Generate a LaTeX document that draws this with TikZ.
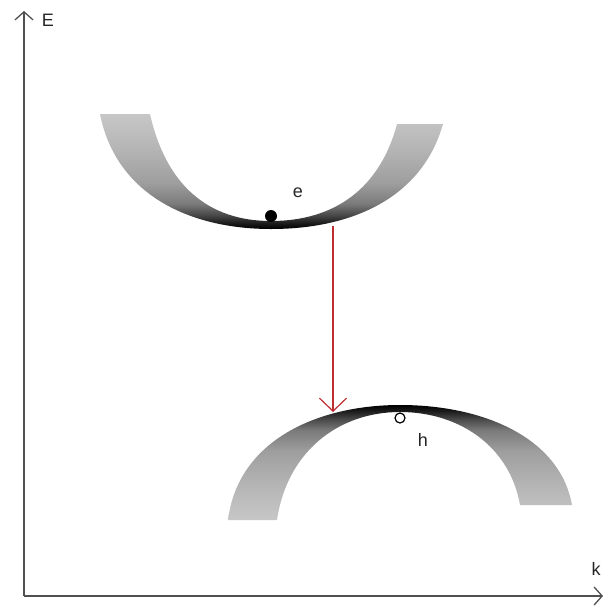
\documentclass[tikz,border=0pt]{standalone}
\usepackage{fontspec}
\setmainfont{Liberation Sans}
\usetikzlibrary{arrows.meta}
\definecolor{axisgray}{RGB}{80,80,80}
\definecolor{transred}{RGB}{190,45,50}
% band shading: dark at the band edge, light at the ends
\pgfdeclareverticalshading{bandshade}{100bp}{color(0bp)=(black); color(25bp)=(black);
  color(27bp)=(black!92); color(31bp)=(black!72); color(36bp)=(black!52);
  color(45bp)=(black!38); color(60bp)=(black!29); color(75bp)=(black!22); color(100bp)=(black!22)}

\begin{document}
\begin{tikzpicture}[x=1pt,y=-1pt,
      axis/.style={draw=axisgray,line width=2pt,-{Straight Barb[length=8pt,width=18pt,line width=1.3pt]}},
      band/.style={shading=bandshade},
      lbl/.style={font=\fontsize{18}{21}\selectfont,text=black!85,inner sep=0pt},
      trans/.style={draw=transred,line width=1.4pt,-{Straight Barb[length=13pt,width=27pt,line width=1.2pt]}},
    ]
      \useasboundingbox (0,0) rectangle (604,606);

      % Axes
      \coordinate (origin) at (24,596);
      \coordinate (etop) at (24,11);
      \coordinate (kend) at (603,596);
      \draw[axis] (origin) -- (etop);
      \draw[axis] (origin) -- (kend);
      \node[lbl] (Elbl) at (48,20) {E};
      \node[lbl] (klbl) at (596,569) {k};

      % Conduction band (upper)
      \shade[band] (100,114) .. controls (116,195) and (190,229) .. (271,229)
        .. controls (352,229) and (422,198) .. (443,124) -- (397,124)
        .. controls (380,188) and (335,221) .. (271,221)
        .. controls (208,221) and (166,185) .. (150,114) -- cycle;

      % Valence band (lower)
      \shade[band,shading angle=180] (228,520) .. controls (238,440) and (318,405) .. (400,405)
        .. controls (484,405) and (560,438) .. (572,505) -- (520,505)
        .. controls (510,447) and (460,412) .. (400,412)
        .. controls (338,412) and (287,452) .. (277,520) -- cycle;

      % Carriers
      \fill (271,216) circle (6);
      \node[lbl] (elbl) at (298,193) {e};
      \draw[line width=1.2pt,fill=white] (400,418) circle (5);
      \node[lbl] (hlbl) at (423,440) {h};

      % Transition
      \coordinate (ctop) at (333,226);
      \coordinate (vtop) at (333,412);
      \draw[trans] (ctop) -- (vtop);
    \end{tikzpicture}
\end{document}
